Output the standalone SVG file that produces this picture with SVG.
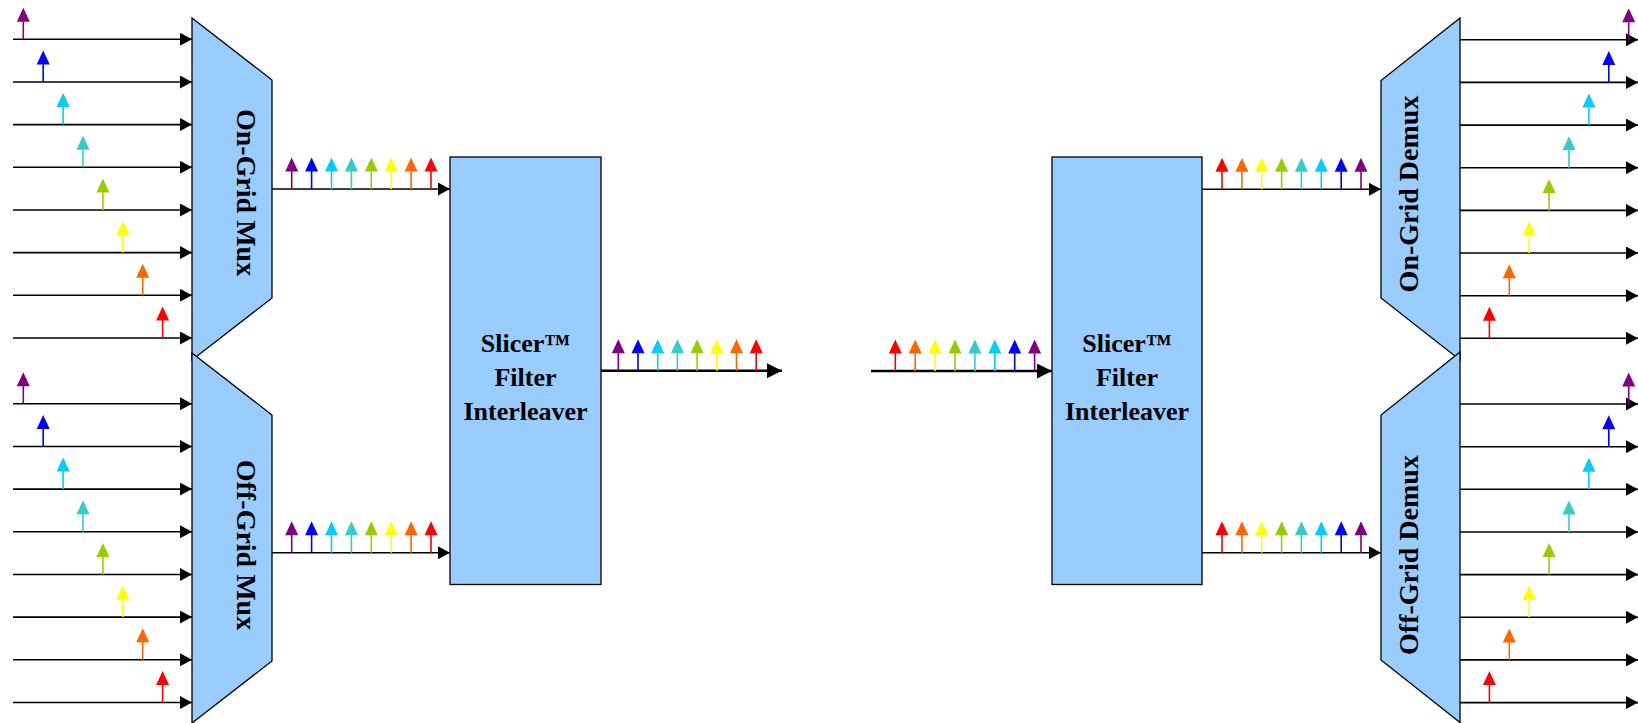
<svg xmlns="http://www.w3.org/2000/svg" xmlns:xlink="http://www.w3.org/1999/xlink" width="1638" height="723" viewBox="0 0 1638 723">
<style>
.blk{fill:#99CCFF;stroke:#000;stroke-width:1.3}
.ln{stroke:#000;stroke-width:1.6;fill:none}
.tk{stroke:#000;stroke-width:2.6;fill:none}
.t{font-family:"Liberation Serif","Times New Roman",serif;font-weight:bold;fill:#000}
.st{font-size:26px;text-anchor:middle}
.mx{font-size:28px;text-anchor:middle}
.c0{color:#800080}.c1{color:#0000FF}.c2{color:#00CCFF}.c3{color:#33CCCC}
.c4{color:#99CC00}.c5{color:#FFFF00}.c6{color:#FF6600}.c7{color:#FF0000}
</style>
<defs>
<marker id="ah" viewBox="0 0 12 13" refX="12" refY="6.5" markerWidth="12" markerHeight="13" markerUnits="userSpaceOnUse" orient="auto"><path d="M0,0 L12,6.5 L0,13Z" fill="#000"/></marker>
<marker id="ahL" viewBox="0 0 15 15" refX="15" refY="7.5" markerWidth="15" markerHeight="15" markerUnits="userSpaceOnUse" orient="auto"><path d="M0,0 L15,7.5 L0,15Z" fill="#000"/></marker>
<g id="w"><line x1="0" y1="0" x2="0" y2="-18" stroke="currentColor" stroke-width="1.6"/><path d="M-6.5,-17.5 L0,-31.5 L6.5,-17.5Z" fill="currentColor"/></g>
</defs>

<g id="on-grid-mux">
<polygon class="blk" points="192,18 272,80 272,298 192,360"/>
<text class="t mx" transform="translate(237,192.5) rotate(90)">On-Grid Mux</text>
</g>
<g id="off-grid-mux">
<polygon class="blk" points="192,353 272,415 272,661 192,723"/>
<text class="t mx" transform="translate(237,545) rotate(90)">Off-Grid Mux</text>
</g>
<g id="slicer-tx">
<rect class="blk" x="450" y="157" width="151" height="427.5"/>
<text class="t st" x="525.5" y="352">Slicer™</text>
<text class="t st" x="525.5" y="386">Filter</text>
<text class="t st" x="525.5" y="420">Interleaver</text>
</g>
<g id="slicer-rx">
<rect class="blk" x="1052" y="157" width="150" height="427.5"/>
<text class="t st" x="1127" y="352">Slicer™</text>
<text class="t st" x="1127" y="386">Filter</text>
<text class="t st" x="1127" y="420">Interleaver</text>
</g>
<g id="on-grid-demux">
<polygon class="blk" points="1460,18 1381,80.5 1381,298 1460,360"/>
<text class="t mx" transform="translate(1418,194) rotate(-90)">On-Grid Demux</text>
</g>
<g id="off-grid-demux">
<polygon class="blk" points="1460,352 1381,415 1381,660 1460,722.5"/>
<text class="t mx" transform="translate(1418,555) rotate(-90)">Off-Grid Demux</text>
</g>

<g id="connectors">
<!-- on-grid mux inputs -->
<line class="ln" x1="13" y1="39.3" x2="192" y2="39.3" marker-end="url(#ah)"/>
<line class="ln" x1="13" y1="82" x2="192" y2="82" marker-end="url(#ah)"/>
<line class="ln" x1="13" y1="124.6" x2="192" y2="124.6" marker-end="url(#ah)"/>
<line class="ln" x1="13" y1="167.3" x2="192" y2="167.3" marker-end="url(#ah)"/>
<line class="ln" x1="13" y1="210" x2="192" y2="210" marker-end="url(#ah)"/>
<line class="ln" x1="13" y1="252.6" x2="192" y2="252.6" marker-end="url(#ah)"/>
<line class="ln" x1="13" y1="295.3" x2="192" y2="295.3" marker-end="url(#ah)"/>
<line class="ln" x1="13" y1="338" x2="192" y2="338" marker-end="url(#ah)"/>
<!-- off-grid mux inputs -->
<line class="ln" x1="13" y1="403.8" x2="192" y2="403.8" marker-end="url(#ah)"/>
<line class="ln" x1="13" y1="446.5" x2="192" y2="446.5" marker-end="url(#ah)"/>
<line class="ln" x1="13" y1="489.1" x2="192" y2="489.1" marker-end="url(#ah)"/>
<line class="ln" x1="13" y1="531.8" x2="192" y2="531.8" marker-end="url(#ah)"/>
<line class="ln" x1="13" y1="574.5" x2="192" y2="574.5" marker-end="url(#ah)"/>
<line class="ln" x1="13" y1="617.1" x2="192" y2="617.1" marker-end="url(#ah)"/>
<line class="ln" x1="13" y1="659.8" x2="192" y2="659.8" marker-end="url(#ah)"/>
<line class="ln" x1="13" y1="702.5" x2="192" y2="702.5" marker-end="url(#ah)"/>
<!-- mux to slicer -->
<line class="ln" x1="272" y1="189" x2="450" y2="189" marker-end="url(#ah)"/>
<line class="ln" x1="272" y1="552.7" x2="450" y2="552.7" marker-end="url(#ah)"/>
<!-- slicer out / in -->
<line class="tk" x1="601" y1="370.7" x2="782" y2="370.7" marker-end="url(#ahL)"/>
<line class="tk" x1="871" y1="371" x2="1052" y2="371" marker-end="url(#ahL)"/>
<!-- slicer to demux -->
<line class="ln" x1="1202" y1="189.3" x2="1381" y2="189.3" marker-end="url(#ah)"/>
<line class="ln" x1="1202" y1="552.7" x2="1381" y2="552.7" marker-end="url(#ah)"/>
<!-- on-grid demux outputs -->
<line class="ln" x1="1460" y1="39.8" x2="1638" y2="39.8" marker-end="url(#ah)"/>
<line class="ln" x1="1460" y1="82.4" x2="1638" y2="82.4" marker-end="url(#ah)"/>
<line class="ln" x1="1460" y1="125.1" x2="1638" y2="125.1" marker-end="url(#ah)"/>
<line class="ln" x1="1460" y1="167.7" x2="1638" y2="167.7" marker-end="url(#ah)"/>
<line class="ln" x1="1460" y1="210.4" x2="1638" y2="210.4" marker-end="url(#ah)"/>
<line class="ln" x1="1460" y1="253" x2="1638" y2="253" marker-end="url(#ah)"/>
<line class="ln" x1="1460" y1="295.7" x2="1638" y2="295.7" marker-end="url(#ah)"/>
<line class="ln" x1="1460" y1="338.3" x2="1638" y2="338.3" marker-end="url(#ah)"/>
<!-- off-grid demux outputs -->
<line class="ln" x1="1460" y1="404" x2="1638" y2="404" marker-end="url(#ah)"/>
<line class="ln" x1="1460" y1="446.7" x2="1638" y2="446.7" marker-end="url(#ah)"/>
<line class="ln" x1="1460" y1="489.3" x2="1638" y2="489.3" marker-end="url(#ah)"/>
<line class="ln" x1="1460" y1="532" x2="1638" y2="532" marker-end="url(#ah)"/>
<line class="ln" x1="1460" y1="574.6" x2="1638" y2="574.6" marker-end="url(#ah)"/>
<line class="ln" x1="1460" y1="617.3" x2="1638" y2="617.3" marker-end="url(#ah)"/>
<line class="ln" x1="1460" y1="659.9" x2="1638" y2="659.9" marker-end="url(#ah)"/>
<line class="ln" x1="1460" y1="702.6" x2="1638" y2="702.6" marker-end="url(#ah)"/>
</g>

<g id="wavelengths">
<!-- on-grid mux inputs -->
<use href="#w" class="c0" x="23.3" y="39.3"/>
<use href="#w" class="c1" x="43.2" y="82"/>
<use href="#w" class="c2" x="63.1" y="124.6"/>
<use href="#w" class="c3" x="83" y="167.3"/>
<use href="#w" class="c4" x="102.9" y="210"/>
<use href="#w" class="c5" x="122.8" y="252.6"/>
<use href="#w" class="c6" x="142.7" y="295.3"/>
<use href="#w" class="c7" x="162.6" y="338"/>
<!-- off-grid mux inputs -->
<use href="#w" class="c0" x="23.3" y="403.8"/>
<use href="#w" class="c1" x="43.2" y="446.5"/>
<use href="#w" class="c2" x="63.1" y="489.1"/>
<use href="#w" class="c3" x="83" y="531.8"/>
<use href="#w" class="c4" x="102.9" y="574.5"/>
<use href="#w" class="c5" x="122.8" y="617.1"/>
<use href="#w" class="c6" x="142.7" y="659.8"/>
<use href="#w" class="c7" x="162.6" y="702.5"/>
<!-- on-grid mux output -->
<use href="#w" class="c0" x="291.7" y="189"/>
<use href="#w" class="c1" x="311.6" y="189"/>
<use href="#w" class="c2" x="331.5" y="189"/>
<use href="#w" class="c3" x="351.4" y="189"/>
<use href="#w" class="c4" x="371.3" y="189"/>
<use href="#w" class="c5" x="391.2" y="189"/>
<use href="#w" class="c6" x="411.1" y="189"/>
<use href="#w" class="c7" x="431" y="189"/>
<!-- off-grid mux output -->
<use href="#w" class="c0" x="291.7" y="552.7"/>
<use href="#w" class="c1" x="311.6" y="552.7"/>
<use href="#w" class="c2" x="331.5" y="552.7"/>
<use href="#w" class="c3" x="351.4" y="552.7"/>
<use href="#w" class="c4" x="371.3" y="552.7"/>
<use href="#w" class="c5" x="391.2" y="552.7"/>
<use href="#w" class="c6" x="411.1" y="552.7"/>
<use href="#w" class="c7" x="431" y="552.7"/>
<!-- slicer output -->
<use href="#w" class="c0" x="618.3" y="370.7"/>
<use href="#w" class="c1" x="638" y="370.7"/>
<use href="#w" class="c2" x="657.7" y="370.7"/>
<use href="#w" class="c3" x="677.4" y="370.7"/>
<use href="#w" class="c4" x="697.1" y="370.7"/>
<use href="#w" class="c5" x="716.8" y="370.7"/>
<use href="#w" class="c6" x="736.5" y="370.7"/>
<use href="#w" class="c7" x="756.2" y="370.7"/>
<!-- slicer input (rx) -->
<use href="#w" class="c7" x="895.3" y="371"/>
<use href="#w" class="c6" x="915.2" y="371"/>
<use href="#w" class="c5" x="935.1" y="371"/>
<use href="#w" class="c4" x="955" y="371"/>
<use href="#w" class="c3" x="974.9" y="371"/>
<use href="#w" class="c2" x="994.8" y="371"/>
<use href="#w" class="c1" x="1014.7" y="371"/>
<use href="#w" class="c0" x="1034.6" y="371"/>
<!-- rx slicer to on-grid demux -->
<use href="#w" class="c7" x="1222" y="189.3"/>
<use href="#w" class="c6" x="1241.9" y="189.3"/>
<use href="#w" class="c5" x="1261.7" y="189.3"/>
<use href="#w" class="c4" x="1281.6" y="189.3"/>
<use href="#w" class="c3" x="1301.4" y="189.3"/>
<use href="#w" class="c2" x="1321.3" y="189.3"/>
<use href="#w" class="c1" x="1341.2" y="189.3"/>
<use href="#w" class="c0" x="1361" y="189.3"/>
<!-- rx slicer to off-grid demux -->
<use href="#w" class="c7" x="1222" y="552.7"/>
<use href="#w" class="c6" x="1241.9" y="552.7"/>
<use href="#w" class="c5" x="1261.7" y="552.7"/>
<use href="#w" class="c4" x="1281.6" y="552.7"/>
<use href="#w" class="c3" x="1301.4" y="552.7"/>
<use href="#w" class="c2" x="1321.3" y="552.7"/>
<use href="#w" class="c1" x="1341.2" y="552.7"/>
<use href="#w" class="c0" x="1361" y="552.7"/>
<!-- on-grid demux outputs -->
<use href="#w" class="c0" x="1628.7" y="39.8"/>
<use href="#w" class="c1" x="1608.8" y="82.4"/>
<use href="#w" class="c2" x="1588.9" y="125.1"/>
<use href="#w" class="c3" x="1569" y="167.7"/>
<use href="#w" class="c4" x="1549.1" y="210.4"/>
<use href="#w" class="c5" x="1529.2" y="253"/>
<use href="#w" class="c6" x="1509.3" y="295.7"/>
<use href="#w" class="c7" x="1489.4" y="338.3"/>
<!-- off-grid demux outputs -->
<use href="#w" class="c0" x="1628.7" y="404"/>
<use href="#w" class="c1" x="1608.8" y="446.7"/>
<use href="#w" class="c2" x="1588.9" y="489.3"/>
<use href="#w" class="c3" x="1569" y="532"/>
<use href="#w" class="c4" x="1549.1" y="574.6"/>
<use href="#w" class="c5" x="1529.2" y="617.3"/>
<use href="#w" class="c6" x="1509.3" y="659.9"/>
<use href="#w" class="c7" x="1489.4" y="702.6"/>
</g>
</svg>
